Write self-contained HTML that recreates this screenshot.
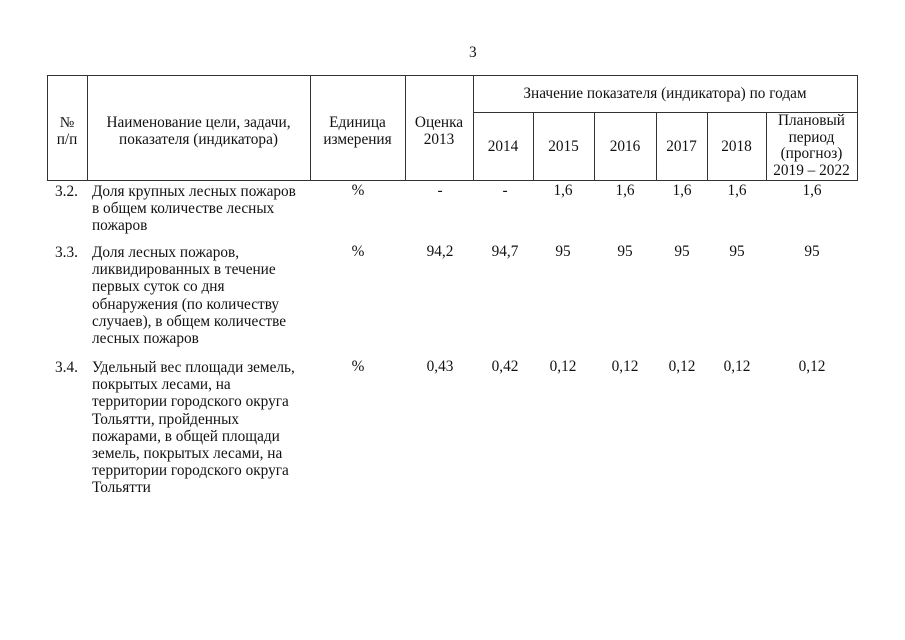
<!DOCTYPE html>
<html><head><meta charset="utf-8"><style>
body{margin:0;width:905px;height:640px;background:#fff;position:relative;overflow:hidden;font-family:"Liberation Serif","Noto Serif CJK SC",serif;color:#111;font-size:15.3px}
.l{position:absolute;background:#333}
.t{position:absolute;line-height:17.2px;white-space:nowrap}
.c{position:absolute;text-align:center;line-height:16.5px;white-space:nowrap}
</style></head><body>
<div class="t" style="left:469px;top:44px">3</div>
<div class="l" style="left:47px;top:75px;width:811px;height:1px"></div>
<div class="l" style="left:473px;top:112px;width:385px;height:1px"></div>
<div class="l" style="left:47px;top:180px;width:811px;height:1px"></div>
<div class="l" style="left:47px;top:75px;width:1px;height:106px"></div>
<div class="l" style="left:87px;top:75px;width:1px;height:106px"></div>
<div class="l" style="left:310px;top:75px;width:1px;height:106px"></div>
<div class="l" style="left:405px;top:75px;width:1px;height:106px"></div>
<div class="l" style="left:473px;top:75px;width:1px;height:106px"></div>
<div class="l" style="left:857px;top:75px;width:1px;height:106px"></div>
<div class="l" style="left:533px;top:112px;width:1px;height:69px"></div>
<div class="l" style="left:594px;top:112px;width:1px;height:69px"></div>
<div class="l" style="left:656px;top:112px;width:1px;height:69px"></div>
<div class="l" style="left:707px;top:112px;width:1px;height:69px"></div>
<div class="l" style="left:766px;top:112px;width:1px;height:69px"></div>
<div class="c" style="left:47px;top:115px;width:40px">№<br>п/п</div>
<div class="c" style="left:87px;top:115px;width:223px">Наименование цели, задачи,<br>показателя (индикатора)</div>
<div class="c" style="left:310px;top:115px;width:95px">Единица<br>измерения</div>
<div class="c" style="left:405px;top:115px;width:68px">Оценка<br>2013</div>
<div class="c" style="left:473px;top:86px;width:384px">Значение показателя (индикатора) по годам</div>
<div class="c" style="left:473px;top:139px;width:60px">2014</div>
<div class="c" style="left:533px;top:139px;width:61px">2015</div>
<div class="c" style="left:594px;top:139px;width:62px">2016</div>
<div class="c" style="left:656px;top:139px;width:51px">2017</div>
<div class="c" style="left:707px;top:139px;width:59px">2018</div>
<div class="c" style="left:766px;top:113px;width:91px">Плановый<br>период<br>(прогноз)<br>2019 – 2022</div>
<div class="t" style="left:55px;top:183px">3.2.</div>
<div class="t" style="left:92px;top:183px">Доля крупных лесных пожаров<br>в общем количестве лесных<br>пожаров</div>
<div class="c" style="left:328px;top:183px;width:60px">%</div>
<div class="c" style="left:410px;top:183px;width:60px">-</div>
<div class="c" style="left:475px;top:183px;width:60px">-</div>
<div class="c" style="left:533px;top:183px;width:60px">1,6</div>
<div class="c" style="left:595px;top:183px;width:60px">1,6</div>
<div class="c" style="left:652px;top:183px;width:60px">1,6</div>
<div class="c" style="left:707px;top:183px;width:60px">1,6</div>
<div class="c" style="left:782px;top:183px;width:60px">1,6</div>
<div class="t" style="left:55px;top:244px">3.3.</div>
<div class="t" style="left:92px;top:244px">Доля лесных пожаров,<br>ликвидированных в течение<br>первых суток со дня<br>обнаружения (по количеству<br>случаев), в общем количестве<br>лесных пожаров</div>
<div class="c" style="left:328px;top:244px;width:60px">%</div>
<div class="c" style="left:410px;top:244px;width:60px">94,2</div>
<div class="c" style="left:475px;top:244px;width:60px">94,7</div>
<div class="c" style="left:533px;top:244px;width:60px">95</div>
<div class="c" style="left:595px;top:244px;width:60px">95</div>
<div class="c" style="left:652px;top:244px;width:60px">95</div>
<div class="c" style="left:707px;top:244px;width:60px">95</div>
<div class="c" style="left:782px;top:244px;width:60px">95</div>
<div class="t" style="left:55px;top:359px">3.4.</div>
<div class="t" style="left:92px;top:359px">Удельный вес площади земель,<br>покрытых лесами, на<br>территории городского округа<br>Тольятти, пройденных<br>пожарами, в общей площади<br>земель, покрытых лесами, на<br>территории городского округа<br>Тольятти</div>
<div class="c" style="left:328px;top:359px;width:60px">%</div>
<div class="c" style="left:410px;top:359px;width:60px">0,43</div>
<div class="c" style="left:475px;top:359px;width:60px">0,42</div>
<div class="c" style="left:533px;top:359px;width:60px">0,12</div>
<div class="c" style="left:595px;top:359px;width:60px">0,12</div>
<div class="c" style="left:652px;top:359px;width:60px">0,12</div>
<div class="c" style="left:707px;top:359px;width:60px">0,12</div>
<div class="c" style="left:782px;top:359px;width:60px">0,12</div>
</body></html>
